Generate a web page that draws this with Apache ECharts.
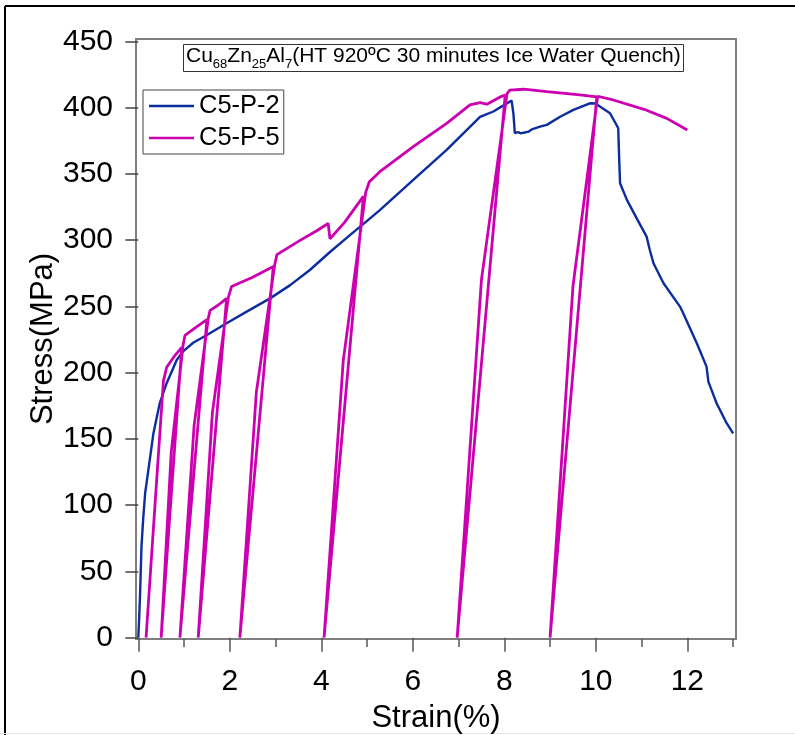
<!DOCTYPE html>
<html><head><meta charset="utf-8">
<script src="https://cdn.jsdelivr.net/npm/echarts@6/dist/echarts.min.js"></script>
<style>html,body{margin:0;padding:0;background:#fff}#c{width:795px;height:735px}</style>
</head><body><div id="c"></div>
<script>
const seriesNames = ['C5-P-2', 'C5-P-5'];
const blueStrain = [0,0.02,0.04,0.07,0.11,0.15,0.22,0.33,0.47,0.62,0.84,0.98,1.2,1.5,1.93,2.37,2.88,3.32,3.75,4.19,4.6,5.0,5.28,6.01,6.74,7.47,7.76,8.0,8.16,8.2,8.23,8.3,8.36,8.42,8.53,8.6,8.78,8.93,9.22,9.51,9.87,10.0,10.09,10.31,10.45,10.49,10.51,10.53,10.68,10.9,11.11,11.18,11.26,11.48,11.84,11.91,12.21,12.42,12.46,12.64,12.86,13.0];
const blueStress = [0,15,34,69,91,109,126.5,154,177,192,209.5,216,222.5,228.4,237.2,246,256,266,277.4,291,303,314.5,322.6,345.4,368,393,397,402,405.2,395,380.6,381.5,380.5,381,381.8,383.5,385.6,386.9,393,398.2,403.2,403,400.7,395.7,387,384.4,362,342.9,330.3,316,302.6,292.5,282.5,267.4,249.8,244.8,222,204.5,193.2,176.9,161.8,154.2];
const magStrain = [0.17,0.40,0.55,0.62,0.78,0.95, 0.50, 0.72,0.98,1.02,1.25,1.50, 0.91, 1.22,1.53,1.57,1.75,1.93, 1.31, 1.62,1.97,2.04,2.5,2.95, 2.22, 2.58,2.98,3.03,3.5,3.9,4.15,4.19,4.5,4.92, 4.06, 4.48,4.97,5.05,5.28,6.01,6.74,7.25,7.47,7.62,7.91,8.02, 6.97, 7.5,8.06,8.12,8.42,8.93,9.65,10.02, 9.0, 9.5,10.04,10.38,11.11,11.55,12.0];
const magStress = [0,118,194,204,212,219, 0, 140,221,228,234,240, 0, 160,241,247,251,256, 0, 170,257,265,272,280, 0, 185,281,289,299,307,312.5,301,313,333, 0, 209,336,344,351.6,370.5,388,402,403.7,402.5,408,409.5, 0, 270,410.5,413.2,413.8,412,409.5,408, 0, 265,408.5,405.7,398,391.8,383];
const xTicksMajor = [0,2,4,6,8,10,12];
const xTicksMinor = [1,3,5,7,9,11,13];
const yTicks = [0,50,100,150,200,250,300,350,400,450];
const annotText = ['C5-P-5', 'C5-P-2'];
const annotStrain = [5.94, 10.88];
const annotStress = [397, 232];
const colors = ['#0b2d9e', '#cc00b0'];
const FONT = 'Liberation Sans, Arial, sans-serif';

const zip = (a, b) => a.map((v, i) => [v, b[i]]);
const chart = echarts.init(document.getElementById('c'));
chart.setOption({
  animation: false,
  backgroundColor: '#fff',
  textStyle: { fontFamily: FONT },
  grid: { left: 136, right: 59, top: 39, bottom: 96, show: true, borderColor: '#7f7f7f', borderWidth: 2, containLabel: false, outerBoundsMode: 'none' },
  title: {
    left: 183, top: 44,
    text: '{m|Cu}{s|68}{m|Zn}{s|25}{m|Al}{s|7}{m|(HT 920ºC 30 minutes Ice Water Quench)}',
    borderColor: '#333', borderWidth: 1, padding: [2, 3, 1, 3],
    textStyle: {
      fontWeight: 'normal',
      rich: {
        m: { fontSize: 21, fontFamily: FONT, color: '#000', lineHeight: 26, verticalAlign: 'top' },
        s: { fontSize: 13, fontFamily: FONT, color: '#000', lineHeight: 13, verticalAlign: 'top', padding: [12, 0, 0, 0] }
      }
    }
  },
  legend: {
    data: seriesNames, orient: 'vertical', left: 143, top: 90, icon: 'rect',
    borderColor: '#444', borderWidth: 1, padding: [3, 4, 3, 6],
    itemWidth: 45, itemHeight: 2.5, itemGap: 6,
    textStyle: { fontSize: 25.5, color: '#000', fontFamily: FONT }
  },
  xAxis: [{
    type: 'value', min: -0.05, max: 13.064, position: 'bottom',
    name: 'Strain(%)', nameLocation: 'middle', nameGap: 64, nameMoveOverlap: false,
    nameTextStyle: { fontSize: 31, color: '#000', fontFamily: FONT },
    axisLine: { show: false }, splitLine: { show: false },
    axisTick: { show: true, customValues: xTicksMajor, length: 14, lineStyle: { color: '#555', width: 1.5 } },
    axisLabel: { customValues: xTicksMajor, fontSize: 30, color: '#000', margin: 28, fontFamily: FONT }
  }, {
    type: 'value', min: -0.05, max: 13.064, position: 'bottom',
    axisLine: { show: false }, splitLine: { show: false },
    axisTick: { show: true, customValues: xTicksMinor, length: 8, lineStyle: { color: '#555', width: 1.5 } },
    axisLabel: { show: false }
  }],
  yAxis: {
    type: 'value', min: -1, max: 451.7,
    name: 'Stress(MPa)', nameLocation: 'middle', nameGap: 77, nameRotate: 90, nameMoveOverlap: false,
    nameTextStyle: { fontSize: 31, color: '#000', fontFamily: FONT },
    axisLine: { show: false }, splitLine: { show: false },
    axisTick: { show: true, customValues: yTicks, length: 13, lineStyle: { color: '#444', width: 1.5 } },
    axisLabel: { customValues: yTicks, fontSize: 30, color: '#000', margin: 23, fontFamily: FONT }
  },
  series: [
    { name: seriesNames[0], type: 'line', data: zip(blueStrain, blueStress), showSymbol: false, symbol: 'none',
      lineStyle: { color: colors[0], width: 2.4 }, itemStyle: { color: colors[0] } },
    { name: seriesNames[1], type: 'line', data: zip(magStrain, magStress), showSymbol: false, symbol: 'none',
      lineStyle: { color: colors[1], width: 2.8 }, itemStyle: { color: colors[1] } },
    { name: 'annot', type: 'scatter', silent: true, symbolSize: 1, itemStyle: { opacity: 0 },
      data: annotText.map((t, i) => ({ name: t, value: [annotStrain[i], annotStress[i]] })),
      label: { show: true, position: 'inside', formatter: p => p.name, fontSize: 24, color: '#000', fontFamily: FONT } }
  ],
  graphic: [
    { type: 'line', shape: { x1: 5, y1: 6, x2: 795, y2: 6 }, style: { stroke: '#000', lineWidth: 2 } },
    { type: 'line', shape: { x1: 5, y1: 6, x2: 5, y2: 735 }, style: { stroke: '#000', lineWidth: 2 } },
    { type: 'line', shape: { x1: 0, y1: 733.5, x2: 795, y2: 733.5 }, style: { stroke: '#e6e6e6', lineWidth: 1 } }
  ]
});
</script></body></html>
